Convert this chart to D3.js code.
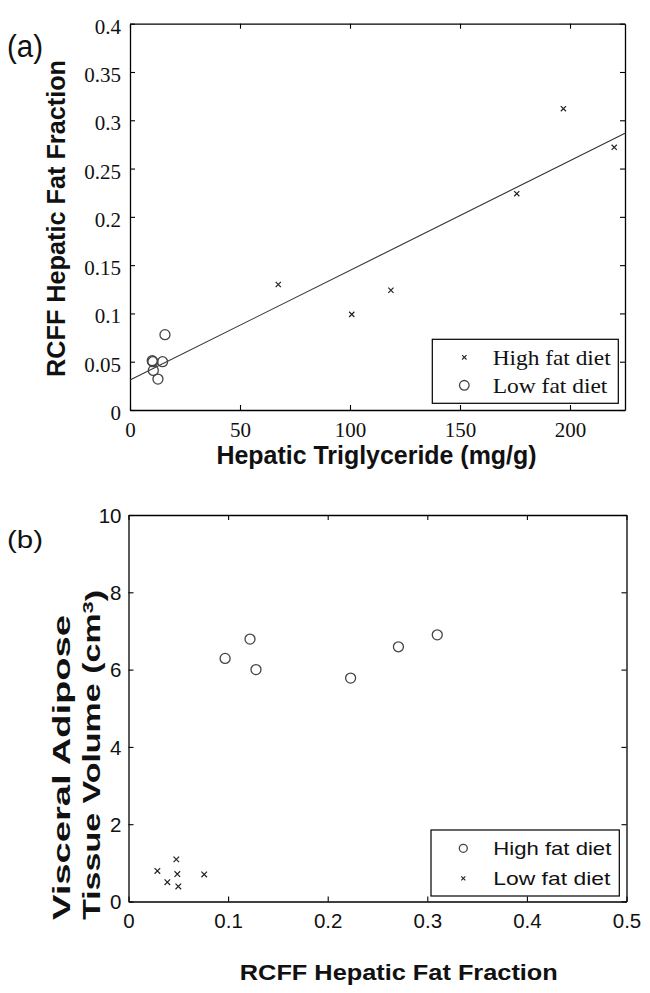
<!DOCTYPE html>
<html><head><meta charset="utf-8">
<script src="https://cdn.jsdelivr.net/npm/d3@7/dist/d3.min.js"></script>
<style>html,body{margin:0;padding:0;background:#fff;}svg{display:block;}</style>
</head><body>
<svg id="chart" width="650" height="993"></svg>
<script>
// ---- Panel (a) data ----
const aHighX = [67.4, 100.8, 118.6, 175.8, 197.0, 220.1];
const aHighY = [0.130, 0.099, 0.124, 0.224, 0.312, 0.272];
const aLowX  = [15.9, 10.1, 10.4, 14.8, 10.6, 12.7];
const aLowY  = [0.078, 0.051, 0.050, 0.050, 0.041, 0.032];
const aFitX  = [0, 225];
const aFitY  = [0.031, 0.2865];
const aXTicks = [0, 50, 100, 150, 200];
const aXTickLabels = ["0", "50", "100", "150", "200"];
const aYTicks = [0, 0.05, 0.1, 0.15, 0.2, 0.25, 0.3, 0.35, 0.4];
const aYTickLabels = ["0", "0.05", "0.1", "0.15", "0.2", "0.25", "0.3", "0.35", "0.4"];
// ---- Panel (b) data ----
const bHighX = [0.097, 0.122, 0.128, 0.223, 0.271, 0.310];
const bHighY = [6.29, 6.79, 6.00, 5.78, 6.59, 6.90];
const bLowX  = [0.029, 0.048, 0.039, 0.049, 0.050, 0.076];
const bLowY  = [0.79, 1.09, 0.50, 0.71, 0.39, 0.70];
const bXTicks = [0, 0.1, 0.2, 0.3, 0.4, 0.5];
const bXTickLabels = ["0", "0.1", "0.2", "0.3", "0.4", "0.5"];
const bYTicks = [0, 2, 4, 6, 8, 10];
const bYTickLabels = ["0", "2", "4", "6", "8", "10"];
const legendA = ["High fat diet", "Low fat diet"];
const legendB = ["High fat diet", "Low fat diet"];

const svg = d3.select("#chart");
const SERIF = "'Liberation Serif','Times New Roman',Times,serif";
const SANS = "'Liberation Sans',Arial,Helvetica,sans-serif";

function label(sel, o) {
  const t = sel.append("text")
    .attr("transform", `translate(${o.x},${o.y})` + (o.rotate ? ` rotate(${o.rotate})` : ""))
    .style("font-family", o.family || SANS)
    .style("font-size", o.size + "px")
    .style("font-weight", o.weight || "normal")
    .attr("text-anchor", o.anchor || "start")
    .attr("fill", "#111");
  if (o.dy) t.attr("dy", o.dy);
  if (o.len) t.attr("textLength", o.len).attr("lengthAdjust", "spacingAndGlyphs");
  if (o.html) t.html(o.html); else t.text(o.text);
  return t;
}
function xMark(g, cx, cy, s, sw) {
  g.append("path")
    .attr("d", `M${cx - s},${cy - s}L${cx + s},${cy + s}M${cx - s},${cy + s}L${cx + s},${cy - s}`)
    .attr("stroke", "#222").attr("stroke-width", sw).attr("fill", "none");
}
function oMark(g, cx, cy, r) {
  g.append("circle").attr("cx", cx).attr("cy", cy).attr("r", r)
    .attr("fill", "none").attr("stroke", "#444").attr("stroke-width", 1.3);
}
function boxAxes(g, x, y, xt, xl, yt, yl, font, fsize, padX, padY, dyY) {
  const fx = (d) => xl[xt.indexOf(d)];
  const fy = (d) => yl[yt.indexOf(d)];
  const [x0, x1] = x.range(), [y0, y1] = y.range();
  const bottom = g.append("g").attr("transform", `translate(0,${y0})`)
    .call(d3.axisBottom(x).tickValues(xt).tickFormat(fx).tickSizeInner(-5).tickSizeOuter(0).tickPadding(padX));
  const top = g.append("g").attr("transform", `translate(0,${y1})`)
    .call(d3.axisTop(x).tickValues(xt).tickFormat("").tickSizeInner(-5).tickSizeOuter(0));
  const left = g.append("g").attr("transform", `translate(${x0},0)`)
    .call(d3.axisLeft(y).tickValues(yt).tickFormat(fy).tickSizeInner(-5).tickSizeOuter(0).tickPadding(padY));
  const right = g.append("g").attr("transform", `translate(${x1},0)`)
    .call(d3.axisRight(y).tickValues(yt).tickFormat("").tickSizeInner(-5).tickSizeOuter(0));
  [bottom, top, left, right].forEach(a => {
    a.attr("font-family", null).attr("font-size", null);
    a.selectAll("path.domain").attr("stroke", "#000").attr("stroke-width", 1.3);
    a.selectAll(".tick line").attr("stroke", "#000").attr("stroke-width", 1.1);
    a.selectAll("text").style("font-family", font).style("font-size", fsize + "px").attr("fill", "#111");
  });
  left.selectAll("text").attr("dy", dyY);
}

// ================= Panel (a) =================
const ga = svg.append("g");
const xa = d3.scaleLinear().domain([0, 225]).range([130, 625]);
const ya = d3.scaleLinear().domain([0, 0.4]).range([410, 23.7]);
boxAxes(ga, xa, ya, aXTicks, aXTickLabels, aYTicks, aYTickLabels, SERIF, 21, 12, 9, "0.45em");

ga.append("path")
  .attr("d", d3.line().x(d => xa(d[0])).y(d => ya(d[1]))(aFitX.map((v, i) => [v, aFitY[i]])))
  .attr("stroke", "#333").attr("stroke-width", 1.1).attr("fill", "none");
aHighX.forEach((v, i) => xMark(ga, xa(v), ya(aHighY[i]), 2.6, 1.2));
aLowX.forEach((v, i) => oMark(ga, xa(v), ya(aLowY[i]), 5));

// legend (a)
ga.append("rect").attr("x", 432.3).attr("y", 339.3).attr("width", 186).attr("height", 64)
  .attr("fill", "#fff").attr("stroke", "#000").attr("stroke-width", 1.2);
xMark(ga, 464.3, 357.3, 2.2, 1.1);
oMark(ga, 464.3, 385.3, 4.8);
label(ga, {x: 492.7, y: 357.3, text: legendA[0], family: SERIF, size: 22, dy: "0.33em", len: 118});
label(ga, {x: 492.7, y: 385.3, text: legendA[1], family: SERIF, size: 22, dy: "0.33em", len: 114.7});

label(ga, {x: 7, y: 56.5, text: "(a)", size: 31, len: 36});
label(ga, {x: 65, y: 377, text: "RCFF Hepatic Fat Fraction", size: 25, weight: "bold", rotate: -90, len: 317});
label(ga, {x: 376.5, y: 464, text: "Hepatic Triglyceride (mg/g)", size: 25, weight: "bold", anchor: "middle", len: 320});

// ================= Panel (b) =================
const gb = svg.append("g");
const xb = d3.scaleLinear().domain([0, 0.5]).range([128.5, 626.5]);
const yb = d3.scaleLinear().domain([0, 10]).range([901.5, 515]);
boxAxes(gb, xb, yb, bXTicks, bXTickLabels, bYTicks, bYTickLabels, SANS, 20.5, 12, 7, "0.35em");

bHighX.forEach((v, i) => oMark(gb, xb(v), yb(bHighY[i]), 5));
bLowX.forEach((v, i) => xMark(gb, xb(v), yb(bLowY[i]), 2.8, 1.2));

// legend (b)
gb.append("rect").attr("x", 431).attr("y", 830).attr("width", 188.3).attr("height", 66)
  .attr("fill", "#fff").attr("stroke", "#000").attr("stroke-width", 1.2);
oMark(gb, 463.3, 848.3, 4);
xMark(gb, 463.3, 878.3, 2, 1.1);
label(gb, {x: 493.3, y: 848.3, text: legendB[0], size: 19, dy: "0.36em", len: 118});
label(gb, {x: 493.3, y: 878.3, text: legendB[1], size: 19, dy: "0.36em", len: 117});

label(gb, {x: 7, y: 548, text: "(b)", size: 23, len: 36});
label(gb, {x: 70, y: 920, text: "Visceral Adipose", size: 23.5, weight: "bold", rotate: -90, len: 305});
label(gb, {x: 99.5, y: 920, html: 'Tissue Volume (cm<tspan dy="-0.45em" style="font-size:15px">3</tspan><tspan dy="0.45em">)</tspan>', size: 23.5, weight: "bold", rotate: -90, len: 330});
label(gb, {x: 398.8, y: 980, text: "RCFF Hepatic Fat Fraction", size: 22, weight: "bold", anchor: "middle", len: 318});
</script>
</body></html>
